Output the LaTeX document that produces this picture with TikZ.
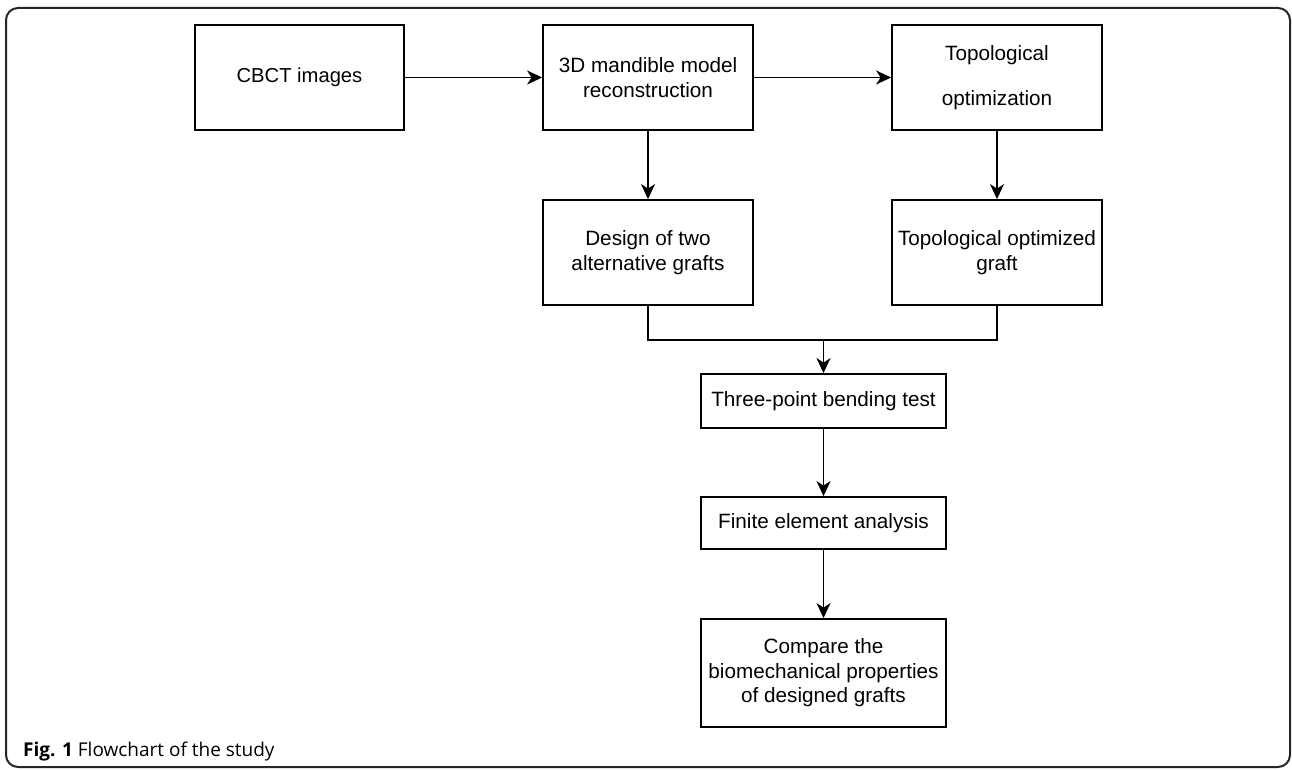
\documentclass[tikz,border=0pt]{standalone}
\usepackage{fontspec}
\setmainfont{Liberation Sans}
\newfontfamily\capfont{Open Sans}
\usetikzlibrary{arrows.meta}
\begin{document}
\begin{tikzpicture}[x=1pt,y=-1pt,
  box/.style={draw=black,line width=1.8pt,align=center,inner sep=2pt,
    font=\fontsize{20.7}{24.5}\selectfont},
  arr/.style={line width=1.8pt,-{Stealth[length=15pt,width=14pt,inset=4.5pt]}},
  conn/.style={line width=1.8pt}]
\useasboundingbox (0,0) rectangle (1292,770);
\draw[line width=2pt,draw=black!85,rounded corners=12pt] (6,8) rectangle (1290,767);
\node[box,minimum width=209pt,minimum height=105pt,font=\fontsize{20.2}{24}\selectfont] (cbct) at (299.5,77.5) {CBCT images};
\node[box,minimum width=210pt,minimum height=105pt] (m3d) at (648,77.5) {3D mandible model\\reconstruction};
\node[box,minimum width=210pt,minimum height=105pt] (topo) at (997,77.5) {Topological\\[20pt]optimization};
\node[box,minimum width=210pt,minimum height=105pt] (design) at (648,252.5) {Design of two\\alternative grafts};
\node[box,minimum width=210pt,minimum height=105pt] (topoopt) at (997,252.5) {Topological optimized\\graft};
\node[box,minimum width=245pt,minimum height=54pt] (three) at (823.5,401) {Three-point bending test};
\node[box,minimum width=245pt,minimum height=52pt] (finite) at (823.5,523) {Finite element analysis};
\node[box,minimum width=245pt,minimum height=108pt] (compare) at (823.5,673) {Compare the\\biomechanical properties\\of designed grafts};
\coordinate (j) at (823.5,340);
\draw[arr] (cbct) -- (m3d);
\draw[arr] (m3d) -- (topo);
\draw[arr] (m3d) -- (design);
\draw[arr] (topo) -- (topoopt);
\draw[conn] (design.south) |- (j) -| (topoopt.south);
\draw[arr] (j) -- (three);
\draw[arr] (three) -- (finite);
\draw[arr] (finite) -- (compare);
\node[anchor=base west,inner sep=0pt,font=\capfont\fontsize{19}{23}\selectfont] (cap) at (23,756) {\textbf{Fig. 1}\ Flowchart of the study};
\end{tikzpicture}
\end{document}
